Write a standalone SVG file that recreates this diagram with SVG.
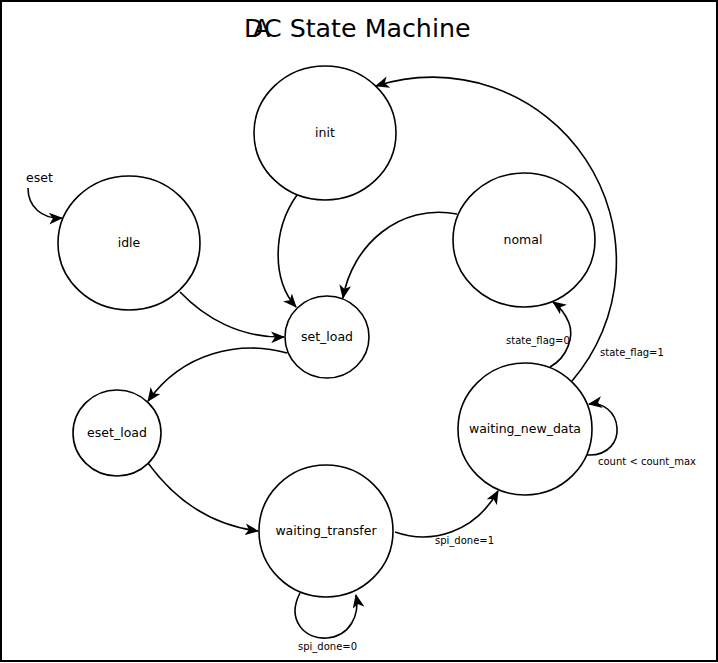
<svg xmlns="http://www.w3.org/2000/svg" width="718" height="663" viewBox="0 0 718 663">
<style>
.node ellipse{fill:#fff;stroke:#000;stroke-width:1.6}
.nl{font-family:"DejaVu Sans",sans-serif;font-size:12.5px;fill:#000;text-anchor:middle}
.el{font-family:"DejaVu Sans",sans-serif;font-size:10px;fill:#000}
.edges path{fill:none;stroke:#000;stroke-width:1.6;marker-end:url(#arr)}
</style>
<defs>
<marker id="arr" viewBox="0 0 13 11" refX="12" refY="5.5" markerWidth="14" markerHeight="12" markerUnits="userSpaceOnUse" orient="auto">
<path d="M0,0 L13,5.5 L0,11 L3.5,5.5 Z" fill="#000"/>
</marker>
</defs>
<rect x="1" y="1" width="716" height="660" fill="#fff" stroke="#000" stroke-width="2"/>
<text x="244" y="37" style="font-family:'DejaVu Sans',sans-serif;font-size:25.3px;fill:#000">D<tspan dx="-10">A</tspan><tspan dx="-6">C</tspan> State Machine</text>
<g class="edges">
<path d="M28,188 C28,207 42,219 62,218"/>
<path d="M180,292 C205,318 240,338 284,337"/>
<path d="M297,195 C272,230 272,280 296,307"/>
<path d="M457,214 C400,203 352,245 343,298"/>
<path d="M287,353 C240,340 183,352 148,401"/>
<path d="M148,463 C175,500 210,525 258,531"/>
<path d="M395,532 C432,545 475,532 498,491"/>
<path d="M300,593 C286,620 305,640 327,638 C350,636 360,615 356,595"/>
<path d="M587,455 C610,456 618,440 617,428 C616,412 603,402 589,404"/>
<path d="M550,367 C568,357 574,336 569,323 C565,313 560,307 553,302"/>
<path d="M572,381 A184,184 0 0 0 376,86"/>
</g>
<text class="el" x="26" y="182" style="font-size:12.5px">eset</text>
<text class="el" x="506" y="344">state_flag=0</text>
<text class="el" x="600" y="356">state_flag=1</text>
<text class="el" x="598" y="465">count &lt; count_max</text>
<text class="el" x="435" y="544">spi_done=1</text>
<text class="el" x="298" y="650">spi_done=0</text>
<g id="init" class="node"><ellipse cx="325" cy="133" rx="71" ry="67"/><text class="nl" x="325" y="137">init</text></g>
<g id="idle" class="node"><ellipse cx="129" cy="243" rx="71" ry="67"/><text class="nl" x="129" y="247">idle</text></g>
<g id="nomal" class="node"><ellipse cx="524" cy="240" rx="71" ry="67"/><text class="nl" x="523" y="244">nomal</text></g>
<g id="set_load" class="node"><ellipse cx="327" cy="337" rx="42" ry="41"/><text class="nl" x="327" y="341">set_load</text></g>
<g id="eset_load" class="node"><ellipse cx="117" cy="433" rx="44" ry="43"/><text class="nl" x="117" y="437">eset_load</text></g>
<g id="waiting_transfer" class="node"><ellipse cx="326" cy="531" rx="67" ry="66"/><text class="nl" x="326" y="535">waiting_transfer</text></g>
<g id="waiting_new_data" class="node"><ellipse cx="525" cy="429" rx="67" ry="66"/><text class="nl" x="525" y="433">waiting_new_data</text></g>
</svg>
